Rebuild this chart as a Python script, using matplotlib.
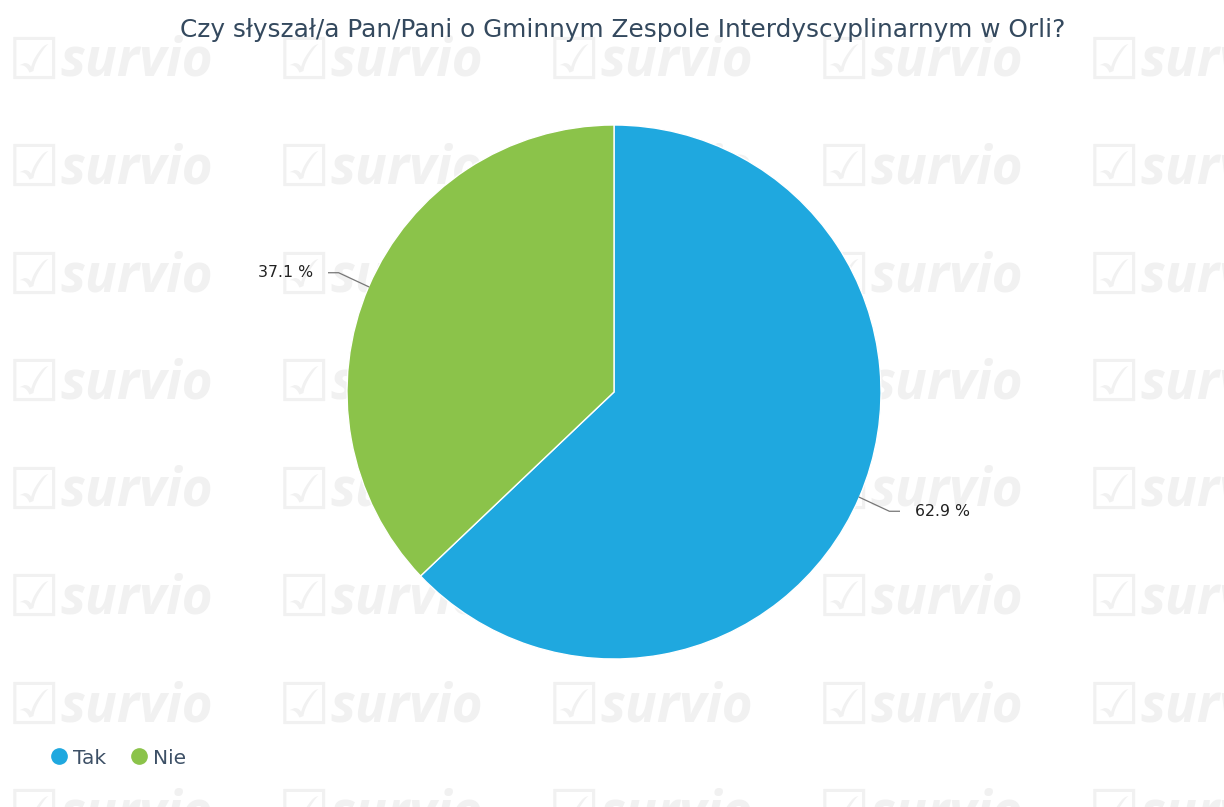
import matplotlib.pyplot as plt
from matplotlib.lines import Line2D
import numpy as np

title = 'Czy słyszał/a Pan/Pani o Gminnym Zespole Interdyscyplinarnym w Orli?'
categories = ['Tak', 'Nie']
shares = [62.9, 37.1]
colors = ['#1fa8df', '#8bc34a']

W, H = 1224, 807
fig = plt.figure(figsize=(W / 100, H / 100), dpi=100)
ax = fig.add_axes([0, 0, 1, 1])

# watermark grid
for row in range(8):
    wy = H - (62 + row * 107.5)
    for col in range(5):
        wx = 8 + col * 270
        ax.text(wx, wy, '☑', fontsize=42, color='#f1f1f1', family='DejaVu Sans',
                ha='left', va='center', zorder=0, clip_on=True)
        ax.text(wx + 52, wy, 'survio', fontsize=38, color='#f1f1f1', family='Open Sans',
                fontweight='bold', fontstyle='italic', ha='left', va='center', zorder=0,
                clip_on=True)

cx, cy, r = 614, H - 392, 267
wedges, _ = ax.pie(shares, colors=colors, startangle=90, counterclock=False,
                   center=(cx, cy), radius=r, frame=True,
                   wedgeprops=dict(edgecolor='white', linewidth=1))
ax.set_xlim(0, W)
ax.set_ylim(0, H)
ax.set_aspect('equal')
ax.axis('off')

for w, val in zip(wedges, shares):
    mid = np.deg2rad((w.theta1 + w.theta2) / 2)
    ex, ey = cx + r * np.cos(mid), cy + r * np.sin(mid)
    side = 1 if np.cos(mid) > 0 else -1
    bx, by = ex + side * 30, ey + np.sign(np.sin(mid)) * 14
    hx = bx + side * 10
    ax.plot([ex, bx, hx], [ey, by, by], color='#777777', lw=0.9, zorder=3)
    ax.text(hx + side * 16, by, f'{val} %', fontsize=11.3, color='#222222',
            ha='left' if side > 0 else 'right', va='center', zorder=3)

fig.text(623 / W, 1 - 30 / H, title, ha='center', va='center', fontsize=17.8, color='#34495e')

handles = [Line2D([], [], marker='o', ls='', ms=11, markerfacecolor=c, markeredgecolor=c)
           for c in colors]
fig.legend(handles, categories, loc='center left', bbox_to_anchor=(29 / W, 1 - 758 / H),
           ncol=2, frameon=False, fontsize=14.5, labelcolor='#3d5066',
           handletextpad=0.1, columnspacing=1.0, handlelength=1.2)

fig.savefig('out.png', dpi=100)
